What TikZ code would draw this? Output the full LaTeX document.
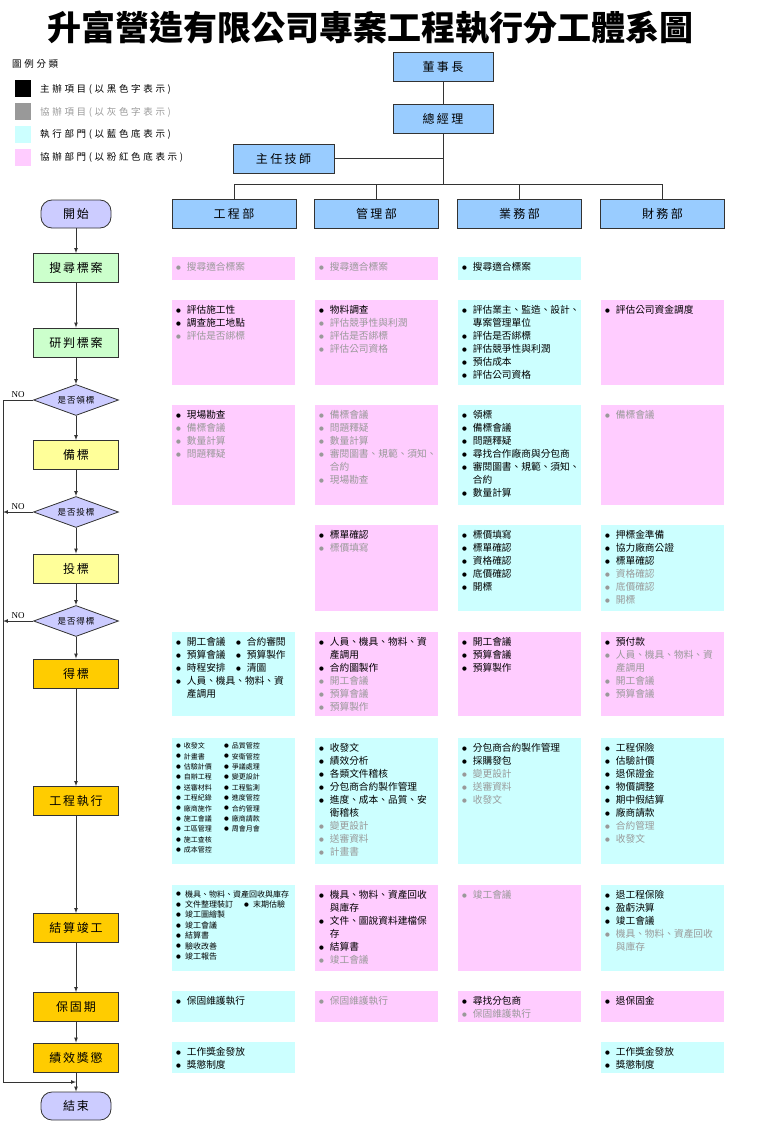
\documentclass[tikz,border=0pt]{standalone}
\usepackage{fontspec}
\setmainfont{Noto Sans CJK TC}
\newfontfamily\symfont{DejaVu Sans}
\newfontfamily\nofont{Liberation Serif}
\usetikzlibrary{shapes.geometric}

\definecolor{pinkbg}{HTML}{FFCCFF}
\definecolor{cyanbg}{HTML}{CCFFFF}
\definecolor{orgblue}{HTML}{99CCFF}
\definecolor{lav}{HTML}{CCCCFF}
\definecolor{mint}{HTML}{CCFFCC}
\definecolor{lemon}{HTML}{FFFF99}
\definecolor{amber}{HTML}{FFCC00}
\definecolor{grayt}{HTML}{999999}
\definecolor{edge}{HTML}{333333}

%% bullet items: black = main, gray = assisting
\newcommand\bul{\raisebox{1.2pt}{\symfont\fontsize{5.5pt}{5.5pt}\selectfont ●}}
\newcommand\itm[1]{\makebox[1.1em][l]{\bul}#1}
\newcommand\itg[1]{{\color{grayt}\makebox[1.1em][l]{\bul}#1}}
\newcommand\cnt[1]{\hspace*{1.1em}#1}
\newcommand\cng[1]{\hspace*{1.1em}{\color{grayt}#1}}
\newcommand\twoitm[3]{\makebox[#1][l]{\itm{#2}}\itm{#3}}

\begin{document}
\begin{tikzpicture}[x=1pt,y=-1pt,
    titletext/.style={font={\fontsize{34pt}{34pt}\bfseries}},
    legendtext/.style={anchor=west,inner sep=0pt,font={\fontsize{9.5pt}{10pt}\selectfont\addfontfeature{LetterSpace=28}}},
    orgbox/.style={draw=edge,fill=orgblue,line width=0.8pt,minimum height=29pt,inner sep=0pt,
        font={\fontsize{12pt}{12pt}\selectfont\addfontfeature{LetterSpace=20}}},
    orgline/.style={draw=edge,line width=0.6pt},
    startend/.style={draw=edge,fill=lav,line width=0.8pt,rounded corners=11pt,minimum width=70pt,
        minimum height=28pt,inner sep=0pt,font={\fontsize{12pt}{12pt}\selectfont\addfontfeature{LetterSpace=15}}},
    flowbox/.style={draw=edge,line width=0.8pt,minimum width=85pt,minimum height=29pt,inner sep=0pt,
        font={\fontsize{12pt}{12pt}\selectfont\addfontfeature{LetterSpace=15}}},
    decide/.style={diamond,aspect=2.7,draw=edge,fill=lav,line width=0.8pt,minimum width=85pt,
        minimum height=31pt,inner sep=0pt,font={\fontsize{8.5pt}{9pt}\selectfont\addfontfeature{LetterSpace=10}}},
    flowline/.style={draw=edge,line width=0.7pt,-latex},
    nolbl/.style={above=2pt,inner sep=0pt,font={\nofont\fontsize{9pt}{9pt}\selectfont}},
    celltext/.style={anchor=north west,inner xsep=4pt,inner ysep=5.5pt,align=left,
        font={\fontsize{9.7pt}{13pt}\selectfont}},
    smalltext/.style={celltext,inner ysep=4.5pt,font={\fontsize{7pt}{10.4pt}\selectfont}},
    midtext/.style={celltext,inner ysep=5pt,font={\fontsize{8pt}{10.4pt}\selectfont}}]
\useasboundingbox (0,0) rectangle (765,1126);

%% title
\node[titletext] (title) at (370,28) {升富營造有限公司專案工程執行分工體系圖};

%% legend
\node[legendtext] (lgd) at (12,64) {圖例分類};
\foreach \nm/\y/\bg/\tc/\txt in {lk/89/black/black/{主辦項目(以黑色字表示)},
        lg/112/grayt/grayt/{協辦項目(以灰色字表示)},
        lc/134.5/cyanbg/black/{執行部門(以藍色底表示)},
        lp/157.5/pinkbg/black/{協辦部門(以粉紅色底表示)}}
{
    \fill[\bg] (15,\y-8.5) rectangle ++(16,17);
    \node[legendtext,text=\tc] (\nm) at (40,\y) {\txt};
}

%% org chart
\node[orgbox,minimum width=100pt] (chair) at (443,67) {董事長};
\node[orgbox,minimum width=100pt] (gm) at (443,118.5) {總經理};
\node[orgbox,minimum width=101pt] (chief) at (283.5,158.5) {主任技師};
\foreach \nm/\xx/\txt in {dEng/234/工程部,dAdm/376.5/管理部,dBiz/519.5/業務部,dFin/662.5/財務部}
    \node[orgbox,minimum width=124pt] (\nm) at (\xx,214) {\txt};
\coordinate (bus) at (443,184);
\draw[orgline] (chair) -- (gm);
\draw[orgline] (gm) -- (bus);
\draw[orgline] (chief) -- (chief -| gm);
\draw[orgline] (dEng.north |- bus) -- (dFin.north |- bus);
\foreach \nm in {dEng,dAdm,dBiz,dFin}
    \draw[orgline] (\nm) -- (\nm.north |- bus);

%% flow chart
\node[startend] (start) at (76,214) {開始};
\node[flowbox,fill=mint] (p1) at (76,268) {搜尋標案};
\node[flowbox,fill=mint] (p2) at (76,342.5) {研判標案};
\node[decide] (q1) at (76,400) {是否領標};
\node[flowbox,fill=lemon] (p3) at (76,455) {備標};
\node[decide] (q2) at (76,512) {是否投標};
\node[flowbox,fill=lemon] (p4) at (76,568.5) {投標};
\node[decide] (q3) at (76,621) {是否得標};
\node[flowbox,fill=amber] (p5) at (76,673.5) {得標};
\node[flowbox,fill=amber] (p6) at (76,801) {工程執行};
\node[flowbox,fill=amber] (p7) at (76,928) {結算竣工};
\node[flowbox,fill=amber] (p8) at (76,1007) {保固期};
\node[flowbox,fill=amber] (p9) at (76,1057.5) {績效獎懲};
\node[startend] (stop) at (76,1106) {結束};
\foreach \a/\b in {start/p1,p1/p2,p2/q1,q1/p3,p3/q2,q2/p4,p4/q3,q3/p5,p5/p6,p6/p7,p7/p8,p8/p9,p9/stop}
    \draw[flowline] (\a) -- (\b);
%% NO branches
\coordinate (nl) at (3,1082);
\coordinate (jn) at (76,1082);
\draw[flowline] (q1.west) -- node[nolbl] {NO} (q1.west -| nl) -- (nl) -- (jn);
\draw[flowline] (q2.west) -- node[nolbl] {NO} (q2.west -| nl);
\draw[flowline] (q3.west) -- node[nolbl] {NO} (q3.west -| nl);

%% row: 搜尋標案
\foreach \nm/\xx/\bg/\txt in {a1/172/pinkbg/{\itg{搜尋適合標案}},
        b1/315/pinkbg/{\itg{搜尋適合標案}},
        c1/458/cyanbg/{\itm{搜尋適合標案}}}
{
    \fill[\bg] (\xx,257) rectangle ++(123,23);
    \node[celltext] (\nm) at (\xx,257) {\txt};
}

%% row: 研判標案
\foreach \nm/\xx/\bg/\txt in {a2/172/pinkbg/{\itm{評估施工性}\\\itm{調查施工地點}\\\itg{評估是否綁標}},
        b2/315/pinkbg/{\itm{物料調查}\\\itg{評估競爭性與利潤}\\\itg{評估是否綁標}\\\itg{評估公司資格}},
        c2/458/cyanbg/{\itm{評估業主、監造、設計、}\\\cnt{專案管理單位}\\\itm{評估是否綁標}\\\itm{評估競爭性與利潤}\\\itm{預估成本}\\\itm{評估公司資格}},
        d2/601/pinkbg/{\itm{評估公司資金調度}}}
{
    \fill[\bg] (\xx,300) rectangle ++(123,85);
    \node[celltext] (\nm) at (\xx,300) {\txt};
}

%% row: 備標
\foreach \nm/\xx/\bg/\txt in {a3/172/pinkbg/{\itm{現場勘查}\\\itg{備標會議}\\\itg{數量計算}\\\itg{問題釋疑}},
        b3/315/pinkbg/{\itg{備標會議}\\\itg{問題釋疑}\\\itg{數量計算}\\\itg{審閱圖書、規範、須知、}\\\cng{合約}\\\itg{現場勘查}},
        c3/458/cyanbg/{\itm{領標}\\\itm{備標會議}\\\itm{問題釋疑}\\\itm{尋找合作廠商與分包商}\\\itm{審閱圖書、規範、須知、}\\\cnt{合約}\\\itm{數量計算}},
        d3/601/pinkbg/{\itg{備標會議}}}
{
    \fill[\bg] (\xx,405) rectangle ++(123,100);
    \node[celltext] (\nm) at (\xx,405) {\txt};
}

%% row: 投標
\foreach \nm/\xx/\bg/\txt in {b4/315/pinkbg/{\itm{標單確認}\\\itg{標價填寫}},
        c4/458/cyanbg/{\itm{標價填寫}\\\itm{標單確認}\\\itm{資格確認}\\\itm{底價確認}\\\itm{開標}},
        d4/601/cyanbg/{\itm{押標金準備}\\\itm{協力廠商公證}\\\itm{標單確認}\\\itg{資格確認}\\\itg{底價確認}\\\itg{開標}}}
{
    \fill[\bg] (\xx,525) rectangle ++(123,86);
    \node[celltext] (\nm) at (\xx,525) {\txt};
}

%% row: 得標
\foreach \nm/\xx/\bg/\txt in {a5/172/cyanbg/{\twoitm{60pt}{開工會議}{合約審閱}\\\twoitm{60pt}{預算會議}{預算製作}\\\twoitm{60pt}{時程安排}{清圖}\\\itm{人員、機具、物料、資}\\\cnt{產調用}},
        b5/315/pinkbg/{\itm{人員、機具、物料、資}\\\cnt{產調用}\\\itm{合約圖製作}\\\itg{開工會議}\\\itg{預算會議}\\\itg{預算製作}},
        c5/458/pinkbg/{\itm{開工會議}\\\itm{預算會議}\\\itm{預算製作}},
        d5/601/pinkbg/{\itm{預付款}\\\itg{人員、機具、物料、資}\\\cng{產調用}\\\itg{開工會議}\\\itg{預算會議}}}
{
    \fill[\bg] (\xx,632) rectangle ++(123,84);
    \node[celltext] (\nm) at (\xx,632) {\txt};
}

%% row: 工程執行
\fill[cyanbg] (172,738) rectangle ++(123,126);
\node[smalltext] (a6) at (172,738) {\twoitm{48pt}{收發文}{品質管控}\\\twoitm{48pt}{計畫書}{安衛管控}\\
    \twoitm{48pt}{估驗計價}{爭議處理}\\\twoitm{48pt}{自辦工程}{變更設計}\\\twoitm{48pt}{送審材料}{工程監測}\\
    \twoitm{48pt}{工程紀錄}{進度管控}\\\twoitm{48pt}{廠商施作}{合約管理}\\\twoitm{48pt}{施工會議}{廠商請款}\\
    \twoitm{48pt}{工區管理}{周會月會}\\\itm{施工查核}\\\itm{成本管控}};
\foreach \nm/\xx/\bg/\txt in {b6/315/cyanbg/{\itm{收發文}\\\itm{績效分析}\\\itm{各類文件稽核}\\\itm{分包商合約製作管理}\\\itm{進度、成本、品質、安}\\\cnt{衛稽核}\\\itg{變更設計}\\\itg{送審資料}\\\itg{計畫書}},
        c6/458/cyanbg/{\itm{分包商合約製作管理}\\\itm{採購發包}\\\itg{變更設計}\\\itg{送審資料}\\\itg{收發文}},
        d6/601/cyanbg/{\itm{工程保險}\\\itm{估驗計價}\\\itm{退保證金}\\\itm{物價調整}\\\itm{期中假結算}\\\itm{廠商請款}\\\itg{合約管理}\\\itg{收發文}}}
{
    \fill[\bg] (\xx,738) rectangle ++(123,126);
    \node[celltext] (\nm) at (\xx,738) {\txt};
}

%% row: 結算竣工
\fill[cyanbg] (172,885) rectangle ++(123,86);
\node[midtext] (a7) at (172,885) {\itm{機具、物料、資產回收與庫存}\\\twoitm{68pt}{文件整理裝訂}{末期估驗}\\
    \itm{竣工圖繪製}\\\itm{竣工會議}\\\itm{結算書}\\\itm{驗收改善}\\\itm{竣工報告}};
\foreach \nm/\xx/\bg/\txt in {b7/315/pinkbg/{\itm{機具、物料、資產回收}\\\cnt{與庫存}\\\itm{文件、圖說資料建檔保}\\\cnt{存}\\\itm{結算書}\\\itg{竣工會議}},
        c7/458/pinkbg/{\itg{竣工會議}},
        d7/601/cyanbg/{\itm{退工程保險}\\\itm{盈虧決算}\\\itm{竣工會議}\\\itg{機具、物料、資產回收}\\\cng{與庫存}}}
{
    \fill[\bg] (\xx,885) rectangle ++(123,86);
    \node[celltext] (\nm) at (\xx,885) {\txt};
}

%% row: 保固期
\foreach \nm/\xx/\bg/\txt in {a8/172/cyanbg/{\itm{保固維護執行}},
        b8/315/pinkbg/{\itg{保固維護執行}},
        c8/458/pinkbg/{\itm{尋找分包商}\\\itg{保固維護執行}},
        d8/601/pinkbg/{\itm{退保固金}}}
{
    \fill[\bg] (\xx,991) rectangle ++(123,31);
    \node[celltext] (\nm) at (\xx,991) {\txt};
}

%% row: 績效獎懲
\foreach \nm/\xx in {a9/172,d9/601}
{
    \fill[cyanbg] (\xx,1042) rectangle ++(123,31);
    \node[celltext] (\nm) at (\xx,1042) {\itm{工作獎金發放}\\\itm{獎懲制度}};
}
\end{tikzpicture}
\end{document}
